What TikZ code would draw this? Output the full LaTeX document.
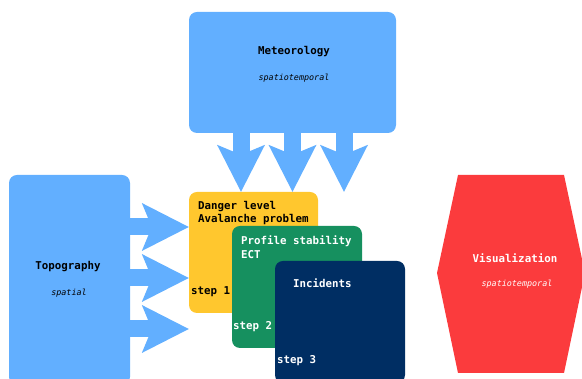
\documentclass[tikz,border=0pt]{standalone}
\usepackage{fontspec}
\setmonofont{DejaVu Sans Mono}
\usetikzlibrary{arrows.meta}
\definecolor{skyblue}{HTML}{62AFFF}
\definecolor{dangeryellow}{HTML}{FFC72E}
\definecolor{profgreen}{HTML}{16905F}
\definecolor{incnavy}{HTML}{002E63}
\definecolor{vizred}{HTML}{FB3B3D}

\begin{document}
\begin{tikzpicture}[x=1pt,y=1pt,
  box/.style={rounded corners=8pt, inner sep=0pt},
  ttl/.style={font=\ttfamily\bfseries\fontsize{10.8}{13.5}\selectfont, inner sep=0pt},
  sub/.style={font=\ttfamily\itshape\fontsize{8.4}{10}\selectfont, inner sep=0pt},
  bigarrow/.style={draw=skyblue, line width=17pt,
    -{Stealth[length=47pt,width=48pt,inset=10pt,line width=0pt]}}]
\useasboundingbox (0,0) rectangle (582,379);

\node[box, fill=skyblue, minimum width=207pt, minimum height=121pt] (met) at (292.5,306.5) {};
\node[ttl] (metname) at (294,327) {Meteorology};
\node[sub] (metsub) at (294,301) {spatiotemporal};

\node[box, fill=skyblue, minimum width=121pt, minimum height=210pt] (topo) at (69.5,99) {};
\node[ttl] (toponame) at (68,112) {Topography};
\node[sub] (toposub) at (69,86) {spatial};

\node[box, fill=dangeryellow, minimum width=129pt, minimum height=121pt] (dng) at (253.5,126.5) {};
\node[box, fill=profgreen, minimum width=130pt, minimum height=122pt] (prof) at (297,92) {};
\node[box, fill=incnavy, minimum width=130pt, minimum height=122pt] (inc) at (340,57) {};

\foreach \dx in {-51.5,0,51.5}
  \draw[bigarrow] ([xshift=\dx pt]met.south) -- ([xshift=\dx pt]met.south |- dng.north);
\foreach \dy in {53,2,-49}
  \draw[bigarrow] ([yshift=\dy pt]topo.east) -- ([yshift=\dy pt]topo.east -| dng.west);

\node[ttl, anchor=west, align=left] (dngtxt) at (198,166) {Danger level\\Avalanche problem};
\node[ttl, anchor=west] (step1) at (191,87) {step 1};
\node[ttl, anchor=west, align=left, text=white] (proftxt) at (241,132) {Profile stability\\ECT};
\node[ttl, anchor=west, text=white] (step2) at (233,52) {step 2};
\node[ttl, anchor=west, text=white] (inctxt) at (293,96) {Incidents};
\node[ttl, anchor=west, text=white] (step3) at (277,18) {step 3};

\fill[vizred] (458,204) -- (564,204) -- (585,106) -- (564,6) -- (458,6) -- (437,106) -- cycle;
\node[ttl, text=white] (vizname) at (515,121) {Visualization};
\node[sub, text=white] (vizsub) at (517,95) {spatiotemporal};
\end{tikzpicture}
\end{document}
